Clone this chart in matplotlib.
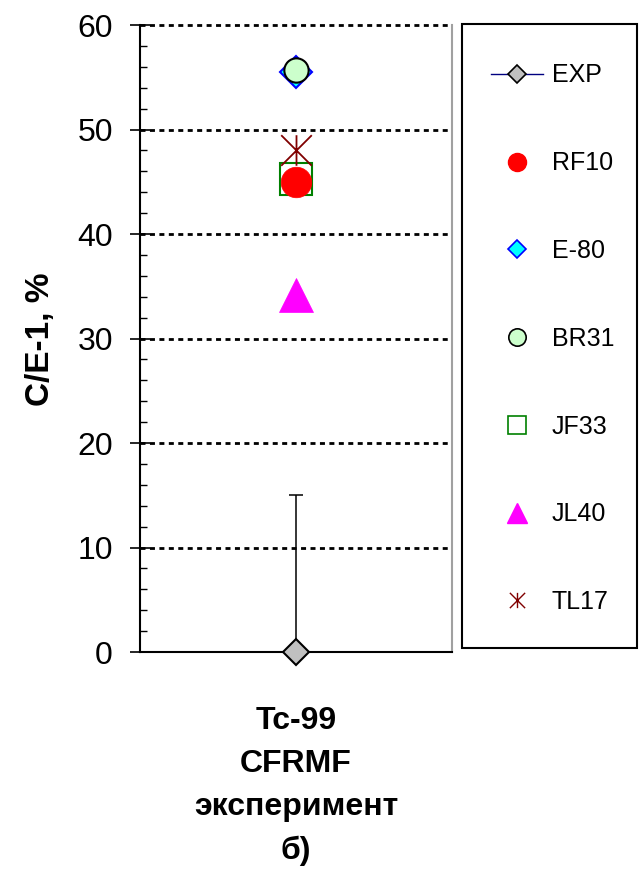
import matplotlib
matplotlib.use("Agg")
import matplotlib.pyplot as plt
from matplotlib.lines import Line2D
from matplotlib.path import Path
from matplotlib.patches import Rectangle
from matplotlib.ticker import MultipleLocator

plt.rcParams['font.family'] = ['Liberation Sans', 'DejaVu Sans']

# ---- data ----
category = ["Tc-99\nCFRMF\nэксперимент\nб)"]
exp_value = [0.0]
exp_err = [15.0]
series_names = ["RF10", "E-80", "BR31", "JF33", "JL40", "TL17"]
rf10 = [45.0]
e80 = [55.5]
br31 = [55.7]
jf33 = [45.3]
jl40 = [34.2]
tl17 = [48.0]
y_ticks = [0, 10, 20, 30, 40, 50, 60]

xpos = [1]

star_path = Path([(-1, -1), (1, 1), (-1, 1), (1, -1), (0, -1), (0, 1)],
                 [Path.MOVETO, Path.LINETO, Path.MOVETO, Path.LINETO, Path.MOVETO, Path.LINETO])

W, H = 639, 869
fig = plt.figure(figsize=(W/100, H/100), dpi=100)
ax = fig.add_axes([140/W, 1-652/H, 312/W, 627/H])
ax.set_xlim(0, 2)
ax.set_ylim(0, 60)

for y in y_ticks[1:]:
    ax.axhline(y, color='black', lw=2.0, linestyle=(0, (1.8, 1.6)), zorder=1, clip_on=False)

# EXP with error bar
ax.errorbar(xpos, exp_value, yerr=exp_err, fmt='none', ecolor='black',
            elinewidth=1.1, capsize=4.7, capthick=1.1, zorder=3)
ax.plot(xpos, exp_value, linestyle='none', marker='D', ms=13, mfc='#c0c0c0',
        mec='black', mew=1.5, clip_on=False, zorder=6)

ax.plot(xpos, jf33, linestyle='none', marker='s', ms=23, mfc='none', mec='#008000', mew=1.5, zorder=4)
ax.plot(xpos, rf10, linestyle='none', marker='o', ms=22, mfc='#ff0000', mec='#ff0000', mew=0.5, zorder=5)
ax.plot(xpos, tl17, linestyle='none', marker=star_path, ms=22, mfc='none', mec='#800000', mew=1.3, zorder=5)
ax.plot(xpos, e80, linestyle='none', marker='D', ms=16.5, mfc='#00ffff', mec='#0000ff', mew=1.5, zorder=4)
ax.plot(xpos, br31, linestyle='none', marker='o', ms=17.5, mfc='#ccffcc', mec='black', mew=1.5, zorder=5)
ax.plot(xpos, jl40, linestyle='none', marker='^', ms=24.5, mfc='#ff00ff', mec='#ff00ff', mew=0.5, zorder=5)

# axes styling
ax.set_yticks(y_ticks)
ax.yaxis.set_minor_locator(MultipleLocator(2))
ax.tick_params(axis='y', which='major', direction='inout', length=15, width=1.2, labelsize=23, pad=12)
ax.tick_params(axis='y', which='minor', direction='in', length=5, width=1.0)
ax.set_xticks(xpos)
ax.set_xticklabels(category, fontweight='bold', fontsize=23, linespacing=1.57)
ax.tick_params(axis='x', length=0, pad=39)
for lbl in ax.get_xticklabels():
    lbl.set_x(1.03)

fig.text(40/W, 1-339.5/H, "C/E-1, %", fontsize=24, fontweight='bold',
         rotation=90, ha='center', va='center')

ax.spines['left'].set_linewidth(1.5)
ax.spines['bottom'].set_linewidth(1.5)
ax.spines['right'].set_color('#a0a0a0')
ax.spines['right'].set_linewidth(1.5)
ax.spines['top'].set_visible(False)

# legend
handles = [
    Line2D([], [], color='#000080', lw=1.0, marker='D', ms=9.2, mfc='#c0c0c0', mec='black', mew=1.2),
    Line2D([], [], linestyle='none', marker='o', ms=13, mfc='#ff0000', mec='#ff0000'),
    Line2D([], [], linestyle='none', marker='D', ms=9.2, mfc='#00ffff', mec='#0000ff', mew=1.2),
    Line2D([], [], linestyle='none', marker='o', ms=12.5, mfc='#ccffcc', mec='black', mew=1.2),
    Line2D([], [], linestyle='none', marker='s', ms=12.5, mfc='none', mec='#008000', mew=1.2),
    Line2D([], [], linestyle='none', marker='^', ms=14, mfc='#ff00ff', mec='#ff00ff'),
    Line2D([], [], linestyle='none', marker=star_path, ms=11, mfc='none', mec='#800000', mew=1.0),
]
labels = ["EXP"] + series_names
fig.patches.append(Rectangle((462/W, 1-648/H), 175/W, 624/H, transform=fig.transFigure,
                             facecolor='none', edgecolor='black', lw=1.5))
leg = fig.legend(handles, labels, loc='upper left',
                 bbox_to_anchor=(491/W, 1-63.5/H),
                 fontsize=18, frameon=False,
                 labelspacing=2.55, borderpad=0, handlelength=2.08, handletextpad=0.36,
                 borderaxespad=0)

fig.savefig("out.png", dpi=100)
